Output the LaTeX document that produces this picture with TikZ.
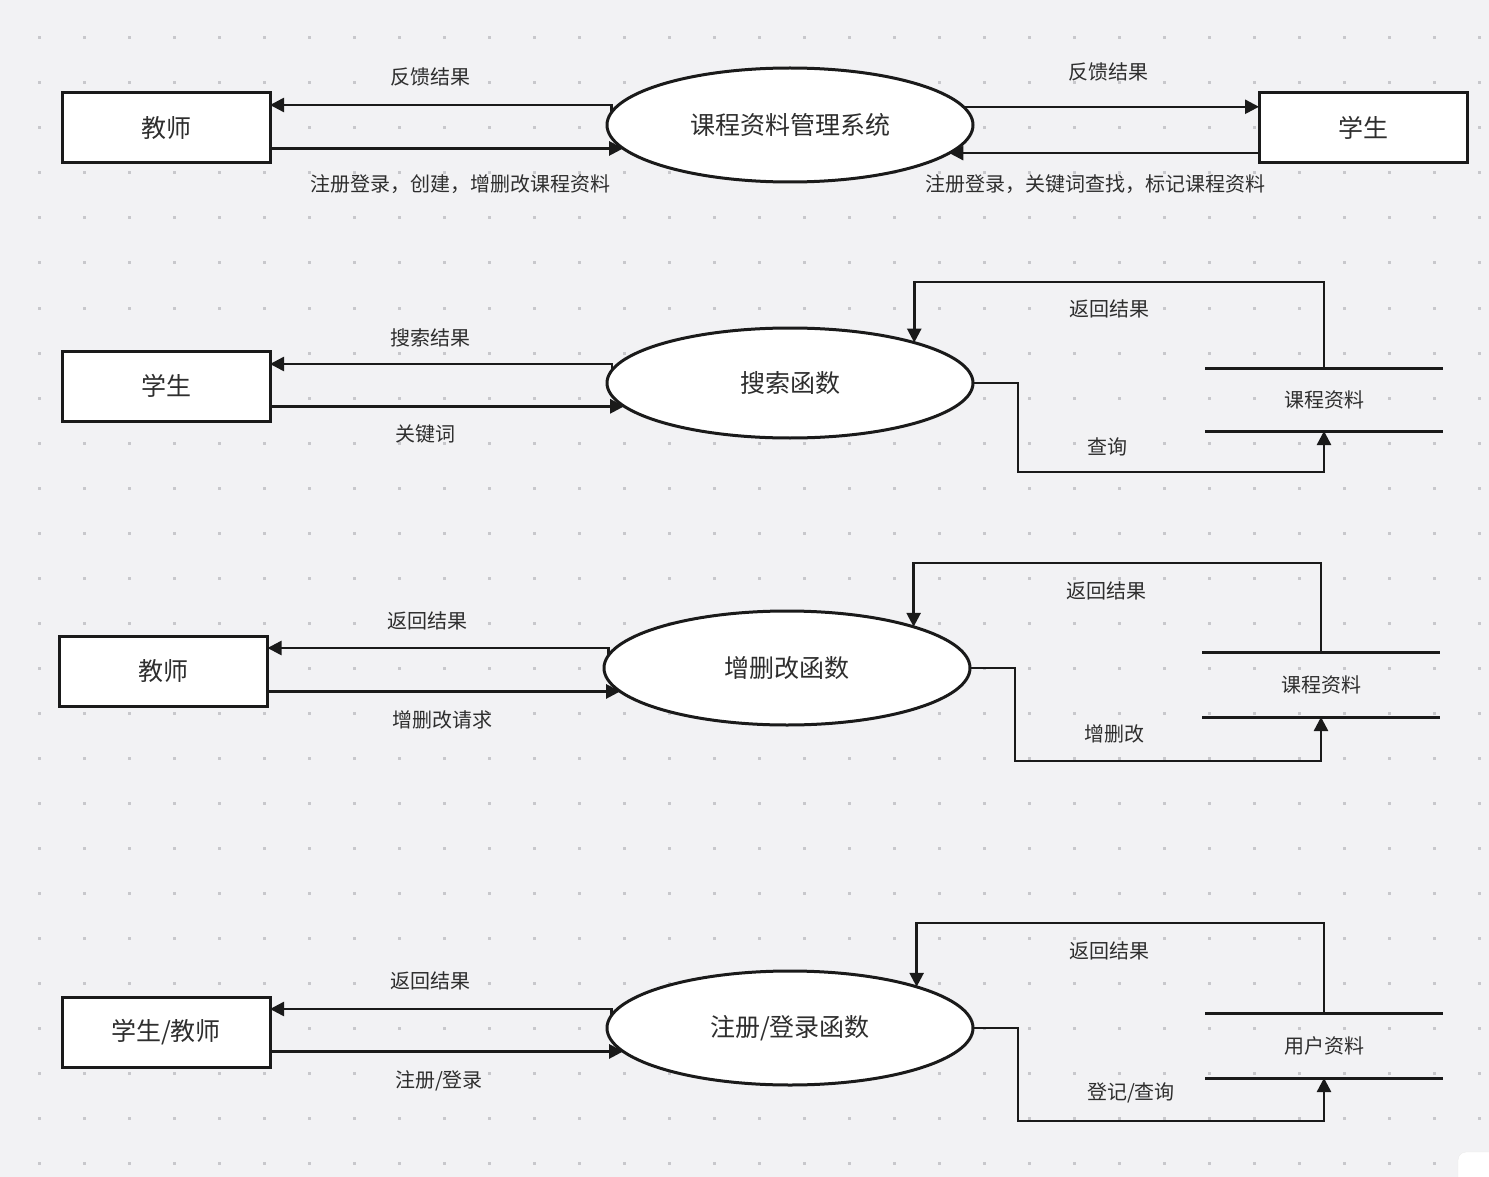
\documentclass[tikz,border=0pt]{standalone}
\usepackage{fontspec}
\setmainfont{Noto Sans CJK SC}
\usetikzlibrary{arrows.meta,shapes.geometric}
\definecolor{bg}{HTML}{F2F2F4}
\definecolor{dotc}{HTML}{C8C8CC}
\definecolor{linec}{HTML}{1A1A1A}
\definecolor{txtc}{HTML}{2E2E2E}
\begin{document}
\begin{tikzpicture}[x=1pt,y=-1pt,
 every node/.style={text=txtc},
 box/.style={draw=linec,line width=3pt,fill=white,minimum width=208pt,minimum height=70pt,inner sep=0pt,outer sep=0pt,font=\fontsize{25pt}{30pt}\selectfont},
 proc/.style={ellipse,draw=linec,line width=3pt,fill=white,minimum width=366pt,minimum height=114pt,inner sep=0pt,outer sep=0pt,font=\fontsize{25pt}{30pt}\selectfont},
 store/.style={minimum width=238pt,minimum height=65pt,inner sep=0pt,outer sep=0pt,font=\fontsize{20pt}{24pt}\selectfont},
 storeline/.style={draw=linec,line width=3pt},
 lbl/.style={font=\fontsize{20pt}{24pt}\selectfont,inner sep=0pt},
 flow/.style={draw=linec,line width=2.5pt,-{Triangle[length=14pt,width=14pt]}},
]
\fill[bg] (0,0) rectangle (1489,1177);
\useasboundingbox (0,0) rectangle (1489,1177);
\foreach \i in {0,...,32} \foreach \j in {0,...,25}
  \fill[dotc] ({39+45*\i-1.5},{38+45*\j-1.5}) rectangle ++(3,3);
\fill[white,rounded corners=8pt,draw=black!8] (1458,1152) rectangle (1520,1210);

% ---------- Row 1 ----------
\node[box] (t1) at (166,128) {教师};
\node[proc] (p1) at (790,125) {课程资料管理系统};
\node[box] (s1) at (1363,128) {学生};
\draw[flow] (p1.176.2) |- ([yshift=23pt]t1.east);
\draw[flow] (p1.188.2 -| t1.east) -- (p1.188.2);
\draw[flow] (p1.6.9) -- (p1.6.9 -| s1.west);
\draw[flow] (p1.350.5 -| s1.west) -- (p1.350.5);
\node[lbl] (l1a) at (430,77) {反馈结果};
\node[lbl] (l1b) at (460,184) {注册登录，创建，增删改课程资料};
\node[lbl] (l1c) at (1108,72) {反馈结果};
\node[lbl] (l1d) at (1095,184) {注册登录，关键词查找，标记课程资料};

% ---------- Row 2 ----------
\node[box] (s2) at (166,386) {学生};
\node[proc,minimum height=110pt] (p2) at (790,383) {搜索函数};
\node[store,minimum height=63pt] (d2) at (1324,399.5) {课程资料};
\draw[storeline] (d2.north west) -- (d2.north east);
\draw[storeline] (d2.south west) -- (d2.south east);
\draw[flow] (p2.176.4) |- ([yshift=22pt]s2.east);
\draw[flow] (p2.188.3 -| s2.east) -- (p2.188.3);
\draw[flow] (p2.east) -- ++(45,0) -- ++(0,89) -| (d2.south);
\draw[flow] (d2.north) -- ++(0,-86) -| (p2.18.1);
\node[lbl] (l2a) at (430,338) {搜索结果};
\node[lbl] (l2b) at (425,434) {关键词};
\node[lbl] (l2c) at (1109,309) {返回结果};
\node[lbl] (l2d) at (1107,447) {查询};

% ---------- Row 3 ----------
\node[box] (t3) at (163.5,671.5) {教师};
\node[proc] (p3) at (787,668) {增删改函数};
\node[store] (d3) at (1321,684.5) {课程资料};
\draw[storeline] (d3.north west) -- (d3.north east);
\draw[storeline] (d3.south west) -- (d3.south east);
\draw[flow] (p3.176.2) |- ([yshift=23.5pt]t3.east);
\draw[flow] (p3.188.2 -| t3.east) -- (p3.188.2);
\draw[flow] (p3.east) -- ++(45,0) -- ++(0,93) -| (d3.south);
\draw[flow] (d3.north) -- ++(0,-89) -| (p3.18.7);
\node[lbl] (l3a) at (427,621) {返回结果};
\node[lbl] (l3b) at (442,720) {增删改请求};
\node[lbl] (l3c) at (1106,591) {返回结果};
\node[lbl] (l3d) at (1114,734) {增删改};

% ---------- Row 4 ----------
\node[box] (b4) at (166,1032) {学生/教师};
\node[proc] (p4) at (790,1028) {注册/登录函数};
\node[store] (d4) at (1324,1045.5) {用户资料};
\draw[storeline] (d4.north west) -- (d4.north east);
\draw[storeline] (d4.south west) -- (d4.south east);
\draw[flow] (p4.176.2) |- ([yshift=23pt]b4.east);
\draw[flow] (p4.188.9 -| b4.east) -- (p4.188.9);
\draw[flow] (p4.east) -- ++(45,0) -- ++(0,93) -| (d4.south);
\draw[flow] (d4.north) -- ++(0,-90) -| (p4.18.7);
\node[lbl] (l4a) at (430,981) {返回结果};
\node[lbl] (l4b) at (439,1081) {注册/登录};
\node[lbl] (l4c) at (1109,951) {返回结果};
\node[lbl] (l4d) at (1131,1093) {登记/查询};
\end{tikzpicture}
\end{document}
